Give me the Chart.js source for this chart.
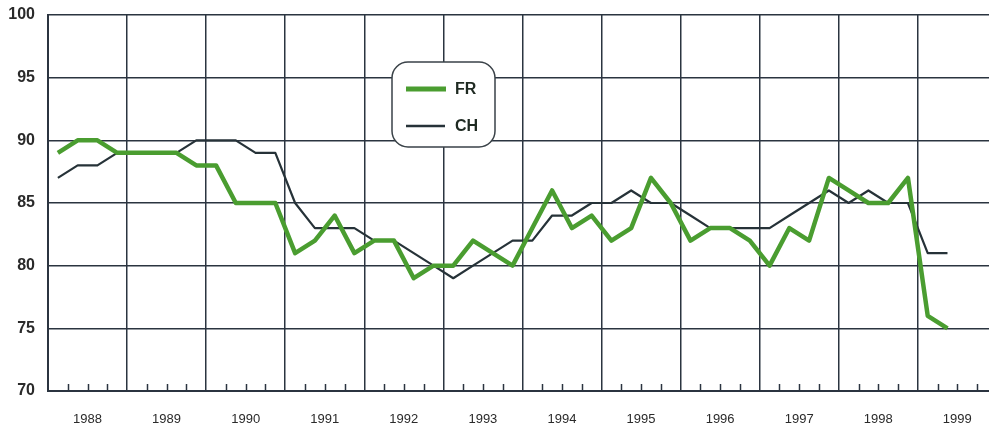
<!DOCTYPE html>
<html>
<head>
<meta charset="utf-8">
<script src="https://cdn.jsdelivr.net/npm/chart.js@4.4.1/dist/chart.umd.min.js"></script>
<style>
  html, body { margin: 0; padding: 0; background: #ffffff; }
  #wrap { width: 989px; height: 427px; }
</style>
</head>
<body>
<div id="wrap"><canvas id="chart" width="989" height="427"></canvas></div>
<script>
// quarterly values, 1988 Q1 .. 1999 Q2
const years = [1988, 1989, 1990, 1991, 1992, 1993, 1994, 1995, 1996, 1997, 1998, 1999];
const frValues = [
    89, 90, 90, 89,
    89, 89, 89, 88,
    88, 85, 85, 85,
    81, 82, 84, 81,
    82, 82, 79, 80,
    80, 82, 81, 80,
    83, 86, 83, 84,
    82, 83, 87, 85,
    82, 83, 83, 82,
    80, 83, 82, 87,
    86, 85, 85, 87,
    76, 75
];
const chValues = [
    87, 88, 88, 89,
    89, 89, 89, 90,
    90, 90, 89, 89,
    85, 83, 83, 83,
    82, 82, 81, 80,
    79, 80, 81, 82,
    82, 84, 84, 85,
    85, 86, 85, 85,
    84, 83, 83, 83,
    83, 84, 85, 86,
    85, 86, 85, 85,
    81, 81
];
const yTicks = [70, 75, 80, 85, 90, 95, 100];

const gridColor = "#2b3440";
const frColor = "#4a9d30";
const chColor = "#263238";

// quarter midpoints as positions on a year scale
function toPoints(values) {
    return values.map((v, i) => ({ x: years[0] + (i + 0.5) / 4, y: v }));
}

// small quarter ticks standing on the bottom axis
const quarterTicks = {
    id: "quarterTicks",
    afterDraw(chart) {
        const ctx = chart.ctx;
        const xs = chart.scales.x;
        const bottom = chart.chartArea.bottom;
        ctx.save();
        ctx.strokeStyle = gridColor;
        ctx.lineWidth = 1.5;
        for (let y = years[0]; y < 2000; y++) {
            for (let q = 1; q < 4; q++) {
                const px = Math.round(xs.getPixelForValue(y + q / 4)) + 0.5;
                if (px > chart.chartArea.right) continue;
                ctx.beginPath();
                ctx.moveTo(px, bottom);
                ctx.lineTo(px, bottom - 7);
                ctx.stroke();
            }
        }
        ctx.restore();
    }
};

// rounded legend box inside the plot
const legendBox = {
    id: "legendBox",
    afterDraw(chart) {
        const ctx = chart.ctx;
        const x = 392, y = 62, w = 103, h = 85, r = 16;
        ctx.save();
        ctx.beginPath();
        ctx.roundRect(x, y, w, h, r);
        ctx.fillStyle = "#ffffff";
        ctx.fill();
        ctx.strokeStyle = "#3a4248";
        ctx.lineWidth = 1.5;
        ctx.stroke();

        ctx.lineCap = "butt";
        ctx.strokeStyle = frColor;
        ctx.lineWidth = 5;
        ctx.beginPath();
        ctx.moveTo(406, 89);
        ctx.lineTo(446, 89);
        ctx.stroke();

        ctx.strokeStyle = chColor;
        ctx.lineWidth = 2.5;
        ctx.beginPath();
        ctx.moveTo(406, 126);
        ctx.lineTo(445, 126);
        ctx.stroke();

        ctx.fillStyle = "#1f2a22";
        ctx.font = "bold 16px 'Liberation Sans', Arial, sans-serif";
        ctx.textBaseline = "middle";
        ctx.fillText("FR", 455, 90);
        ctx.fillText("CH", 455, 127);
        ctx.restore();
    }
};

const ctx = document.getElementById("chart").getContext("2d");
new Chart(ctx, {
    type: "line",
    data: {
        datasets: [
            {
                label: "FR",
                data: toPoints(frValues),
                borderColor: frColor,
                borderWidth: 4.5,
                borderJoinStyle: "round",
                pointRadius: 0,
                tension: 0,
                fill: false
            },
            {
                label: "CH",
                data: toPoints(chValues),
                borderColor: chColor,
                borderWidth: 2.2,
                borderJoinStyle: "round",
                pointRadius: 0,
                tension: 0,
                fill: false
            }
        ]
    },
    options: {
        responsive: false,
        animation: false,
        layout: { padding: { top: 15, right: 0, left: 0, bottom: 0 } },
        plugins: {
            legend: { display: false },
            tooltip: { enabled: false }
        },
        scales: {
            x: {
                type: "linear",
                min: 1988,
                max: 1999.9,
                afterBuildTicks: scale => {
                    scale.ticks = years.map(v => ({ value: v }));
                },
                afterFit: scale => {
                    scale.height = 36;
                    scale.paddingLeft = 0;
                    scale.paddingRight = 0;
                },
                grid: {
                    color: gridColor,
                    lineWidth: 1.5,
                    drawTicks: false
                },
                border: { color: gridColor, width: 2 },
                ticks: {
                    autoSkip: false,
                    maxRotation: 0,
                    labelOffset: 39.5,
                    padding: 21,
                    color: "#2a2a2a",
                    font: { family: "'Liberation Sans', Arial, sans-serif", size: 13 },
                    callback: v => String(v)
                }
            },
            y: {
                min: 70,
                max: 100,
                afterBuildTicks: scale => {
                    scale.ticks = yTicks.map(v => ({ value: v }));
                },
                afterFit: scale => {
                    scale.width = 48;
                    scale.paddingTop = 0;
                    scale.paddingBottom = 0;
                },
                grid: {
                    color: gridColor,
                    lineWidth: 1.5,
                    drawTicks: false
                },
                border: { color: gridColor, width: 2 },
                ticks: {
                    padding: 13,
                    color: "#2a2a2a",
                    font: { family: "'Liberation Sans', Arial, sans-serif", size: 16, weight: "bold" }
                }
            }
        }
    },
    plugins: [quarterTicks, legendBox]
});
</script>
</body>
</html>
